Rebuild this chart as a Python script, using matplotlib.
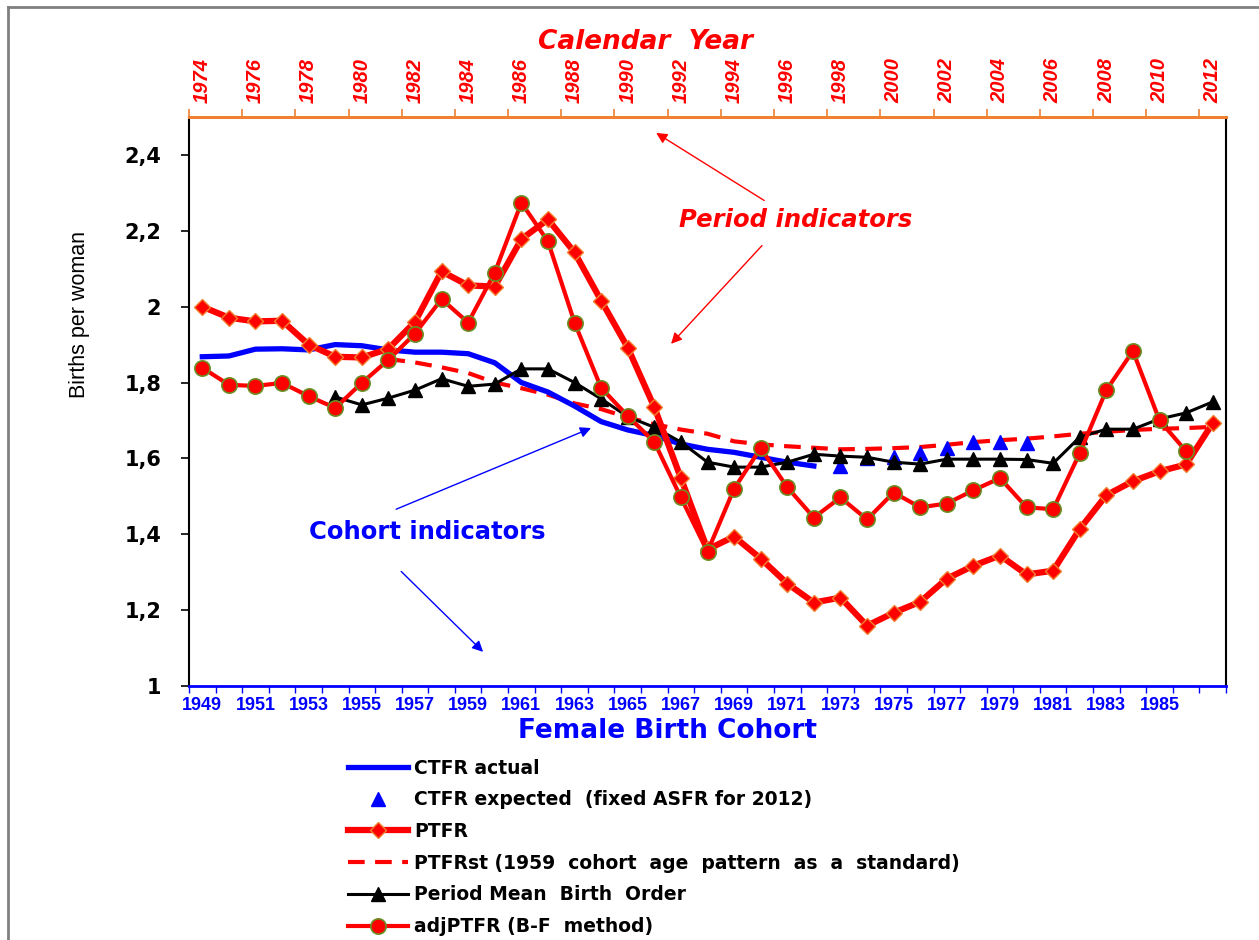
# ------------------------------
# Period vs cohort fertility indicators
# ------------------------------

import numpy as np
import matplotlib.pyplot as plt
from matplotlib.lines import Line2D

# ------------------------------
# DATA
# ------------------------------

cohorts = list(range(1949, 1988))          # female birth cohort (bottom axis)
years = list(range(1974, 2013))            # calendar year (top axis)

# CTFR actual, cohorts 1949-1972
ctfr_actual = [1.868, 1.870, 1.888, 1.889, 1.886, 1.900, 1.897, 1.886, 1.880, 1.880,
               1.876, 1.852, 1.800, 1.775, 1.738, 1.697, 1.675, 1.660, 1.638, 1.624,
               1.616, 1.603, 1.590, 1.580]
ctfr_actual_start = 1949

# CTFR expected (fixed ASFR for 2012), cohorts 1973-1980
ctfr_expected = [1.579, 1.600, 1.603, 1.614, 1.627, 1.643, 1.643, 1.640]
ctfr_expected_start = 1973

# PTFR, all years
ptfr = [2.000, 1.971, 1.961, 1.963, 1.900, 1.868, 1.866, 1.889, 1.960, 2.093,
        2.056, 2.053, 2.178, 2.230, 2.143, 2.016, 1.892, 1.735, 1.548, 1.360,
        1.394, 1.336, 1.270, 1.220, 1.233, 1.159, 1.193, 1.222, 1.283, 1.317,
        1.344, 1.294, 1.304, 1.414, 1.503, 1.540, 1.566, 1.584, 1.693]
ptfr_start = 1949

# PTFRst (1959 cohort age pattern as a standard)
ptfr_st = [1.862, 1.853, 1.840, 1.825, 1.800, 1.785, 1.768, 1.745, 1.730, 1.708,
           1.690, 1.676, 1.665, 1.645, 1.637, 1.632, 1.628, 1.624, 1.625, 1.627,
           1.630, 1.636, 1.643, 1.648, 1.652, 1.658, 1.665, 1.670, 1.675, 1.678,
           1.680, 1.683]
ptfr_st_start = 1956

# Period Mean Birth Order
pmbo = [1.762, 1.741, 1.759, 1.780, 1.810, 1.790, 1.796, 1.836, 1.836, 1.800,
        1.757, 1.710, 1.682, 1.643, 1.590, 1.577, 1.577, 1.590, 1.611, 1.606,
        1.603, 1.590, 1.585, 1.598, 1.598, 1.598, 1.597, 1.587, 1.656, 1.677,
        1.677, 1.704, 1.720, 1.749]
pmbo_start = 1954

# adjPTFR (B-F method)
adj_ptfr = [1.839, 1.794, 1.791, 1.799, 1.764, 1.733, 1.799, 1.860, 1.929, 2.020,
            1.958, 2.090, 2.274, 2.172, 1.958, 1.786, 1.712, 1.643, 1.497, 1.354,
            1.520, 1.627, 1.524, 1.444, 1.497, 1.439, 1.510, 1.471, 1.481, 1.516,
            1.548, 1.471, 1.466, 1.614, 1.780, 1.883, 1.700, 1.619]
adj_ptfr_start = 1949

y_ticks = [1, 1.2, 1.4, 1.6, 1.8, 2, 2.2, 2.4]
y_tick_labels = ['1', '1,2', '1,4', '1,6', '1,8', '2', '2,2', '2,4']


def pos(start, values):
    # category index of each value on the cohort axis
    i0 = cohorts.index(start)
    return np.arange(i0, i0 + len(values))


# ------------------------------
# FIGURE
# ------------------------------

sans = ['Liberation Sans', 'DejaVu Sans']
wide = ['DejaVu Sans']
narrow = ['Liberation Sans Narrow', 'Liberation Sans', 'DejaVu Sans']
plt.rcParams['font.family'] = sans

fig = plt.figure(figsize=(12.59, 9.40), dpi=100)
ax = fig.add_axes([189 / 1259, 1 - 686 / 940, (1226 - 189) / 1259, (686 - 117) / 940])

red = '#FF0000'
blue = '#0000FF'
orange = '#F08030'
olive = '#6B8E23'

ax.plot(pos(ctfr_actual_start, ctfr_actual), ctfr_actual, color=blue, lw=3.8,
        label='CTFR actual', zorder=3)
ax.plot(pos(ctfr_expected_start, ctfr_expected), ctfr_expected, ls='none',
        marker='^', ms=10, color=blue, label='CTFR expected  (fixed ASFR for 2012)', zorder=3)
ax.plot(pos(ptfr_start, ptfr), ptfr, color=red, lw=4.5, marker='D', ms=8,
        mfc=red, mec=orange, mew=1, label='PTFR', zorder=5)
ax.plot(pos(ptfr_st_start, ptfr_st), ptfr_st, color=red, lw=3, ls=(0, (4, 2.5)),
        label='PTFRst (1959  cohort  age  pattern  as  a  standard)', zorder=2)
ax.plot(pos(pmbo_start, pmbo), pmbo, color='black', lw=2.2, marker='^', ms=10,
        label='Period Mean  Birth  Order', zorder=4)
ax.plot(pos(adj_ptfr_start, adj_ptfr), adj_ptfr, color=red, lw=3, marker='o', ms=11,
        mfc=red, mec=olive, mew=1.2, label='adjPTFR (B-F  method)', zorder=6)

# axes
ax.set_xlim(-0.5, len(cohorts) - 0.5)
ax.set_ylim(1, 2.5)
ax.set_yticks(y_ticks)
ax.set_yticklabels(y_tick_labels, fontsize=15, fontweight='bold', family=wide)
ax.tick_params(axis='y', direction='out', length=6, width=1.2, pad=14)

ax.set_xticks(np.arange(0, len(cohorts) - 2, 2))
ax.set_xticklabels([str(c) for c in cohorts[0:len(cohorts) - 2:2]],
                   fontsize=13, fontweight='bold', color=blue, family=narrow)
ax.set_xticks(np.arange(-0.5, len(cohorts)), minor=True)
ax.tick_params(axis='x', which='major', length=0, pad=8)
ax.tick_params(axis='x', which='minor', length=5, color=blue, width=1)

for s in ['left', 'right']:
    ax.spines[s].set_color('black')
    ax.spines[s].set_linewidth(1.5)
ax.spines['bottom'].set_color(blue)
ax.spines['bottom'].set_linewidth(2)
ax.spines['top'].set_color(orange)
ax.spines['top'].set_linewidth(2)

# top axis: calendar year
ax2 = ax.twiny()
ax2.set_xlim(ax.get_xlim())
ax2.set_xticks(np.arange(0, len(years), 2))
ax2.set_xticklabels([str(y) for y in years[::2]], rotation=90, fontsize=14.5,
                    fontweight='bold', fontstyle='italic', color=red, family=narrow)
ax2.set_xticks(np.arange(-0.5, len(years) - 1, 2), minor=True)
ax2.tick_params(axis='x', which='major', length=0, pad=10)
ax2.tick_params(axis='x', which='minor', length=6, color=orange, width=1.2)
ax2.spines['top'].set_color(orange)
ax2.spines['top'].set_linewidth(2)
for s in ['left', 'right', 'bottom']:
    ax2.spines[s].set_visible(False)

# titles
fig.text(645 / 1259, 1 - 42 / 940, 'Calendar  Year', ha='center', va='center',
         fontsize=19, fontweight='bold', fontstyle='italic', color=red, family=wide)
fig.text(667 / 1259, 1 - 731 / 940, 'Female Birth Cohort', ha='center', va='center',
         fontsize=19, fontweight='bold', color=blue, family=wide)
fig.text(80 / 1259, 1 - 315 / 940, 'Births per woman', ha='center', va='center',
         rotation=90, fontsize=15.5, family=narrow)

# annotations
ax.text(22.3, 2.228, 'Period indicators', ha='center', va='center', fontsize=17.5,
        fontweight='bold', fontstyle='italic', color=red, family=wide)
arr_r = dict(arrowstyle='-|>', color=red, lw=1, mutation_scale=16, shrinkA=0, shrinkB=0)
ax.annotate('', xy=(17.07, 2.458), xytext=(21.13, 2.28), arrowprops=arr_r)
ax.annotate('', xy=(17.63, 1.902), xytext=(21.05, 2.161), arrowprops=arr_r)

ax.text(8.46, 1.405, 'Cohort indicators', ha='center', va='center', fontsize=17.5,
        fontweight='bold', color=blue, family=wide)
arr_b = dict(arrowstyle='-|>', color=blue, lw=1, mutation_scale=16, shrinkA=0, shrinkB=0)
ax.annotate('', xy=(14.62, 1.68), xytext=(7.29, 1.466), arrowprops=arr_b)
ax.annotate('', xy=(10.56, 1.09), xytext=(7.48, 1.302), arrowprops=arr_b)

# legend below the chart
fig.legend(loc='upper left', bbox_to_anchor=(340 / 1259, 1 - 751 / 940), frameon=False,
           prop={'weight': 'bold', 'size': 13.5, 'family': wide}, handlelength=3.25,
           handletextpad=0.3, labelspacing=0.68, borderaxespad=0)

# outer frame lines (top and left)
fig.add_artist(Line2D([8 / 1259, 1], [1 - 7 / 940, 1 - 7 / 940], color='#808080', lw=2))
fig.add_artist(Line2D([8 / 1259, 8 / 1259], [0, 1 - 7 / 940], color='#808080', lw=2))

fig.savefig('out.png', dpi=100)
